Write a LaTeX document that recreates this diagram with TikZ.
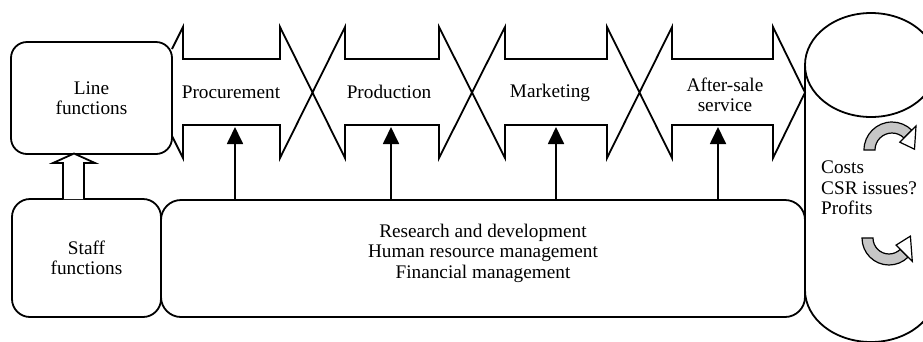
\documentclass[tikz,border=0pt]{standalone}
\usepackage{fontspec}
\setmainfont{Liberation Serif}
\usetikzlibrary{arrows.meta}
\begin{document}
\begin{tikzpicture}[x=1pt,y=-1pt,
  outl/.style={line width=1.8pt},
  box/.style={draw, line width=1.8pt, fill=white, inner sep=0pt, outer sep=0pt, align=center, font=\fontsize{19.25}{20.5}\selectfont},
  lbl/.style={inner sep=0pt, align=center, font=\fontsize{19.25}{20.5}\selectfont},
  upar/.style={line width=1.8pt, -{Triangle[width=16pt,length=17pt]}},
  band/.style={draw, line width=1.2pt, fill=gray!45},
  headst/.style={draw, line width=1.2pt, fill=white}]
\useasboundingbox (0,0) rectangle (923,341);
\fill[white] (0,0) rectangle (923,341);
\clip (0,0) rectangle (923,341);

% chevron chain
\draw[outl] (172,49) -- (183,27) -- (183,59) -- (280,59) -- (280,27) -- (345,158)
  -- (345,125) -- (439,125) -- (439,158) -- (505,27) -- (505,59) -- (607,59)
  -- (607,27) -- (672,158) -- (672,125) -- (773,125) -- (773,158) -- (805,92.5)
  -- (773,27) -- (773,59) -- (672,59) -- (672,27) -- (607,158) -- (607,125)
  -- (505,125) -- (505,158) -- (439,27) -- (439,59) -- (345,59) -- (345,27)
  -- (280,158) -- (280,125) -- (183,125) -- (183,158) -- (172,136);

% cylinder
\draw[outl] (871,65) ellipse[x radius=66, y radius=52];
\draw[outl] (805,65) -- (805,290) arc[start angle=180, end angle=0, x radius=66, y radius=52];

% boxes
\node[box, rounded corners=16pt, minimum width=161pt, minimum height=112pt] (linef) at (91.5,98) {Line\\functions};
\node[box, rounded corners=18pt, minimum width=149pt, minimum height=118pt] (stafff) at (86.5,258) {Staff\\functions};
\node[box, rounded corners=20pt, minimum width=644pt, minimum height=117pt] (rd) at (483,258.5) {};
\node[lbl] (rdtext) at (483,253) {Research and development\\Human resource management\\Financial management};

% chevron labels
\node[lbl] (proc) at (231,92) {Procurement};
\node[lbl] (prod) at (389,92) {Production};
\node[lbl] (mark) at (550,93) {Marketing};
\node[lbl] (after) at (725,95) {After-sale\\service};

% support arrows
\coordinate (p1) at (235,127);
\coordinate (p2) at (391,127);
\coordinate (p3) at (556,127);
\coordinate (p4) at (718,127);
\draw[upar] (rd.north -| p1) -- (p1);
\draw[upar] (rd.north -| p2) -- (p2);
\draw[upar] (rd.north -| p3) -- (p3);
\draw[upar] (rd.north -| p4) -- (p4);

% hollow arrow staff -> line
\draw[outl, fill=white] (63,199) -- (63,163) -- (53,163) -- (74,153.5) -- (95,163) -- (84,163) -- (84,199);

% curved arrows
\draw[band] (864,150) arc[start angle=180, end angle=315, radius=28] -- (904,138) arc[start angle=315, end angle=180, radius=17] -- cycle;
\draw[headst] (916,126) -- (914.5,149.2) -- (899.8,142.2) -- cycle;
\draw[band] (862,238) arc[start angle=180, end angle=45, radius=27] -- (900.3,249.3) arc[start angle=45, end angle=180, radius=16] -- cycle;
\draw[headst] (912.3,261.3) -- (910.4,236.1) -- (896.1,245.1) -- cycle;

\node[lbl, anchor=west, align=left] (crs) at (821,188) {Costs\\CSR issues?\\Profits};
\end{tikzpicture}
\end{document}
